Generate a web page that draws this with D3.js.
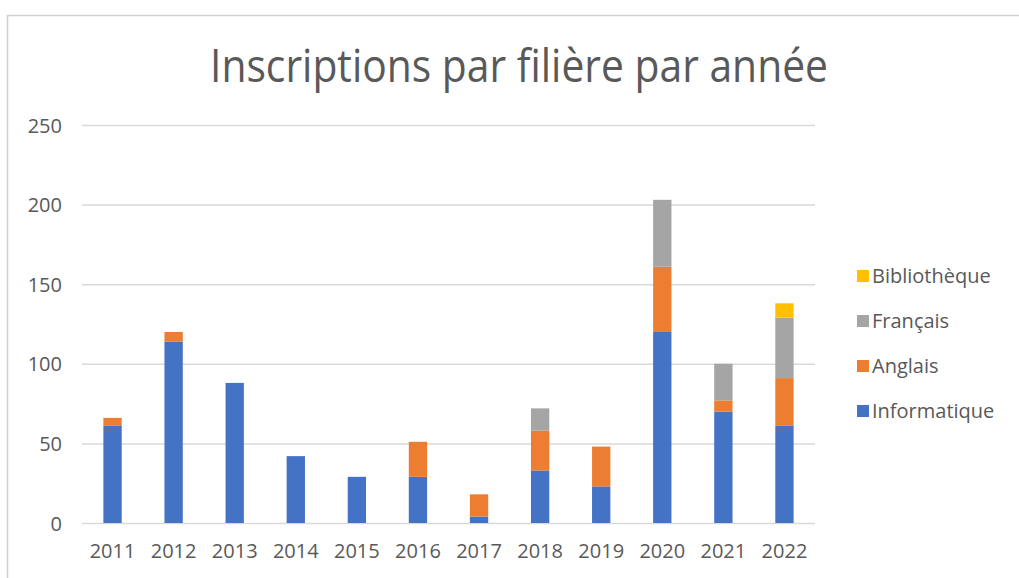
<!DOCTYPE html>
<html>
<head>
<meta charset="utf-8">
<script src="https://cdn.jsdelivr.net/npm/d3@7"></script>
<style>
  body { margin: 0; background: #fff; }
  svg { display: block; }
  text { font-family: "Open Sans", "Noto Sans", sans-serif; fill: #595959; }
</style>
</head>
<body>
<div id="chart"></div>
<script>
// data
var years = ["2011", "2012", "2013", "2014", "2015", "2016", "2017", "2018", "2019", "2020", "2021", "2022"];
var informatique = [61, 114, 88, 42, 29, 29, 4, 33, 23, 120, 70, 61];
var anglais      = [5, 6, 0, 0, 0, 22, 14, 25, 25, 41, 7, 30];
var francais     = [0, 0, 0, 0, 0, 0, 0, 14, 0, 42, 23, 38];
var bibliotheque = [0, 0, 0, 0, 0, 0, 0, 0, 0, 0, 0, 9];
var series = ["Informatique", "Anglais", "Français", "Bibliothèque"];
var colors = ["#4472C4", "#ED7D31", "#A5A5A5", "#FFC000"];
var yTicks = [0, 50, 100, 150, 200, 250];

var W = 1019, H = 578;
var margin = { top: 125, right: 204, bottom: 55, left: 82 };

var rows = years.map(function(y, i) {
  return { year: y, "Informatique": informatique[i], "Anglais": anglais[i],
           "Français": francais[i], "Bibliothèque": bibliotheque[i] };
});

var svg = d3.select("#chart").append("svg")
    .attr("width", W)
    .attr("height", H);

// chart frame (right/bottom edges fall outside the picture)
svg.append("rect")
    .attr("x", 7.5).attr("y", 15.5)
    .attr("width", 1030).attr("height", 600)
    .attr("fill", "none")
    .attr("stroke", "#d0d0d0")
    .attr("stroke-width", 1.5);

var x = d3.scaleBand()
    .domain(years)
    .range([margin.left, W - margin.right])
    .paddingInner(0.7)
    .paddingOuter(0.35);

var y = d3.scaleLinear()
    .domain([0, 250])
    .range([H - margin.bottom, margin.top]);

// title
svg.append("text")
    .attr("x", 519)
    .attr("y", 82)
    .attr("text-anchor", "middle")
    .attr("textLength", 618)
    .attr("lengthAdjust", "spacingAndGlyphs")
    .style("font-size", "46px")
    .style("font-weight", 400)
    .text("Inscriptions par filière par année");

// grid
svg.append("g")
  .selectAll("line")
  .data(yTicks)
  .enter().append("line")
    .attr("x1", margin.left)
    .attr("x2", W - margin.right)
    .attr("y1", function(d) { return y(d) + 0.5; })
    .attr("y2", function(d) { return y(d) + 0.5; })
    .attr("stroke", "#d9d9d9")
    .attr("stroke-width", 1.5);

// y axis labels
var yAxis = svg.append("g")
    .attr("transform", "translate(" + (margin.left - 20) + ",0)")
    .call(d3.axisLeft(y).tickValues(yTicks).tickSize(0).tickPadding(0));
yAxis.select(".domain").remove();
yAxis.selectAll("text")
    .style("font-size", "20px")
    .attr("dy", "0.35em");

// x axis labels
var xAxis = svg.append("g")
    .attr("transform", "translate(0," + (H - margin.bottom) + ")")
    .call(d3.axisBottom(x).tickSize(0).tickPadding(21));
xAxis.select(".domain").remove();
xAxis.selectAll("text")
    .style("font-size", "20px");

// stacked bars
var stack = d3.stack().keys(series);
var stacked = stack(rows);

svg.append("g")
  .selectAll("g")
  .data(stacked)
  .enter().append("g")
    .attr("fill", function(d, i) { return colors[i]; })
  .selectAll("rect")
  .data(function(d) { return d; })
  .enter().append("rect")
    .attr("x", function(d) { return x(d.data.year); })
    .attr("width", x.bandwidth())
    .attr("y", function(d) { return y(d[1]); })
    .attr("height", function(d) { return y(d[0]) - y(d[1]); });

// legend, top to bottom in reverse order
var legend = svg.append("g")
    .attr("transform", "translate(857,276)");
var items = legend.selectAll("g")
    .data(series.slice().reverse())
  .enter().append("g")
    .attr("transform", function(d, i) { return "translate(0," + (i * 45) + ")"; });
items.append("rect")
    .attr("x", 0).attr("y", -6)
    .attr("width", 12).attr("height", 12)
    .attr("fill", function(d) { return colors[series.indexOf(d)]; });
items.append("text")
    .attr("x", 15)
    .attr("dy", "0.35em")
    .style("font-size", "20px")
    .text(function(d) { return d; });
</script>
</body>
</html>
